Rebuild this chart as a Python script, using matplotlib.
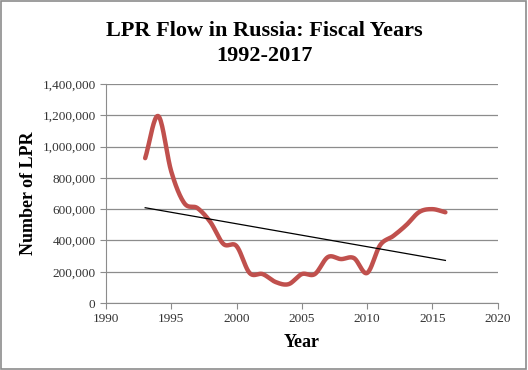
import numpy as np
import matplotlib.pyplot as plt
from matplotlib.ticker import FuncFormatter

years = [1993, 1994, 1995, 1996, 1997, 1998, 1999, 2000, 2001, 2002, 2003, 2004,
         2005, 2006, 2007, 2008, 2009, 2010, 2011, 2012, 2013, 2014, 2015, 2016]
lpr = [926000, 1195000, 840000, 638000, 607000, 517000, 377000, 364000, 192000, 185000, 134000, 121000,
       185000, 185000, 294000, 281000, 287000, 192000, 370000, 428000, 498000, 582000, 600000, 580000]


def catmull_rom(x, y, n=20):
    # smoothed line like the spreadsheet one
    x = np.asarray(x, float)
    y = np.asarray(y, float)
    px = np.concatenate([[2 * x[0] - x[1]], x, [2 * x[-1] - x[-2]]])
    py = np.concatenate([[2 * y[0] - y[1]], y, [2 * y[-1] - y[-2]]])
    xs, ys = [], []
    t = np.linspace(0, 1, n, endpoint=False)
    for i in range(1, len(px) - 2):
        p0, p1, p2, p3 = py[i - 1], py[i], py[i + 1], py[i + 2]
        q0, q1, q2, q3 = px[i - 1], px[i], px[i + 1], px[i + 2]
        ys.extend(0.5 * (2 * p1 + (-p0 + p2) * t + (2 * p0 - 5 * p1 + 4 * p2 - p3) * t ** 2 + (-p0 + 3 * p1 - 3 * p2 + p3) * t ** 3))
        xs.extend(0.5 * (2 * q1 + (-q0 + q2) * t + (2 * q0 - 5 * q1 + 4 * q2 - q3) * t ** 2 + (-q0 + 3 * q1 - 3 * q2 + q3) * t ** 3))
    xs.append(x[-1])
    ys.append(y[-1])
    return np.array(xs), np.array(ys)


fig = plt.figure(figsize=(5.28, 3.70), dpi=100)
ax = fig.add_axes([0.2008, 0.181, 0.7416, 0.592])

fig.patches.append(plt.Rectangle((0.002, 0.003), 0.994, 0.993, transform=fig.transFigure,
                                 fill=False, edgecolor='#8c8c8c', linewidth=1.2))

sx, sy = catmull_rom(years, lpr)
ax.plot(sx, sy, color='#C0504D', linewidth=3.2, solid_capstyle='round', zorder=3)

# linear trendline
coef = np.polyfit(years, lpr, 1)
ax.plot([years[0], years[-1]], np.polyval(coef, [years[0], years[-1]]), color='black', linewidth=0.9, zorder=4)

ax.set_xlim(1990, 2020)
ax.set_ylim(0, 1400000)
ax.set_xticks(range(1990, 2021, 5))
ax.set_yticks(range(0, 1400001, 200000))
ax.yaxis.set_major_formatter(FuncFormatter(lambda v, p: '{:,}'.format(int(v))))
ax.grid(axis='y', color='#8c8c8c', linewidth=0.9)
ax.set_axisbelow(True)
for s in ['top', 'right']:
    ax.spines[s].set_visible(False)
for s in ['left', 'bottom']:
    ax.spines[s].set_color('#8c8c8c')
ax.tick_params(direction='out', length=4, color='#8c8c8c', labelsize=9.5)
for lab in ax.get_xticklabels() + ax.get_yticklabels():
    lab.set_family('Liberation Serif')
    lab.set_color('#333333')

ax.set_xlabel('Year', family='Liberation Serif', fontweight='bold', fontsize=13, labelpad=6)
ax.set_ylabel('Number of LPR', family='Liberation Serif', fontweight='bold', fontsize=13)
fig.suptitle('LPR Flow in Russia: Fiscal Years\n1992-2017', family='Liberation Serif',
             fontweight='bold', fontsize=16, y=0.944, linespacing=1.35)

fig.savefig('out.png', dpi=100)
